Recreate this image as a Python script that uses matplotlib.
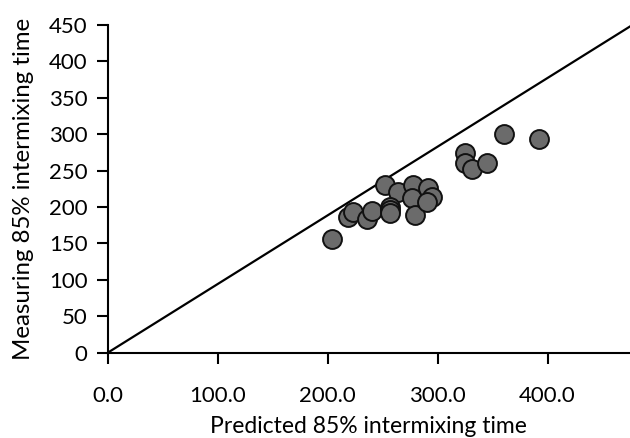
import matplotlib.pyplot as plt

# Predicted vs measured 85% intermixing time
predicted = [203.6, 218.7, 223.3, 235.5, 240.0, 252.1, 264.2, 256.6, 256.6, 256.6,
             277.8, 276.4, 279.4, 291.5, 294.5, 290.0, 360.5, 392.0, 324.8, 324.8,
             330.9, 345.1]
measured = [155.8, 186.8, 193.7, 183.2, 195.0, 230.4, 221.2, 200.5, 196.0, 191.5,
            230.4, 212.1, 189.1, 225.8, 214.3, 207.0, 300.4, 293.5, 273.9, 260.2,
            251.9, 260.2]

# reference line from origin to the top-right corner
line_x = [0, 475]
line_y = [0, 448]

x_ticks = [0, 100, 200, 300, 400]
x_tick_labels = ['0.0', '100.0', '200.0', '300.0', '400.0']
y_ticks = list(range(0, 451, 50))

plt.rcParams['font.family'] = ['Lato', 'DejaVu Sans']

fig = plt.figure(figsize=(6.3, 4.38), dpi=100)
ax = fig.add_axes([0.171, 0.1947, 0.829, 0.7482])

ax.plot(line_x, line_y, color='black', lw=1.6, zorder=2)
ax.scatter(predicted, measured, s=185, c='#6b6b6b', edgecolors='#111111',
           linewidths=1.4, zorder=3)

ax.set_xlim(0, 475)
ax.set_ylim(0, 450)
ax.set_xticks(x_ticks)
ax.set_xticklabels(x_tick_labels)
ax.set_yticks(y_ticks)

for side in ['top', 'right']:
    ax.spines[side].set_visible(False)
for side in ['left', 'bottom']:
    ax.spines[side].set_linewidth(1.5)

ax.tick_params(axis='both', length=8, width=1.5, labelsize=16, direction='out')
ax.tick_params(axis='x', pad=16)
ax.tick_params(axis='y', pad=6.5)

ax.set_xlabel('Predicted 85% intermixing time', fontsize=16.5, labelpad=7)
ax.set_ylabel('Measuring 85% intermixing time', fontsize=17.3, labelpad=11)

plt.savefig('out.png', dpi=100)
